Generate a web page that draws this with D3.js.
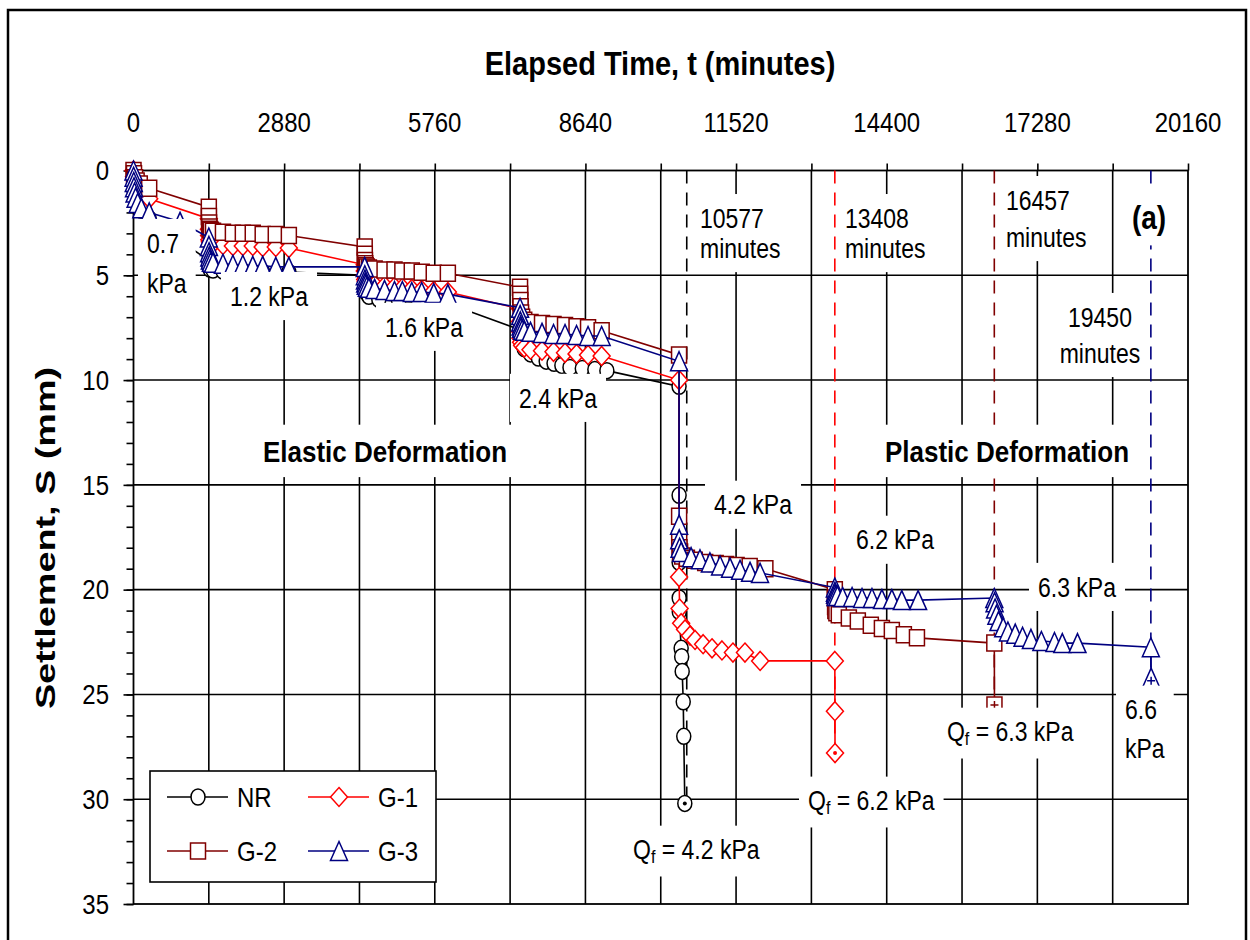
<!DOCTYPE html>
<html><head><meta charset="utf-8">
<script src="https://cdn.jsdelivr.net/npm/d3@7/dist/d3.min.js"></script>
<style>body{margin:0;background:#fff}svg text{font-family:"Liberation Sans",Arial,sans-serif;fill:#000}</style>
</head><body><svg id="c" width="1250" height="940"></svg>
<script>
// ---------------- DATA ----------------
const xTickValues = [0,2880,5760,8640,11520,14400,17280,20160];
const yTickValues = [0,5,10,15,20,25,30,35];
const seriesNames = ["NR","G-1","G-2","G-3"];
const seriesColors = ["#000000","#ff0000","#800000","#000080"];
const seriesShapes = ["circle","diamond","square","triangle"];

// [elapsed time (min), settlement (mm)]
const nrData = [
 [0,0],[5,0.5],[20,1.0],[60,1.5],[150,1.9],[300,2.3],
 [1440,4.3],[1445,4.6],[1460,4.7],[1520,4.75],[1710,4.8],[2090,4.8],[2470,4.85],[2970,4.85],
 [4420,5.0],[4425,5.5],[4440,5.8],[4500,6.0],[4690,6.15],[5070,6.25],[5450,6.3],[6010,6.35],
 [7390,7.6],[7410,8.2],[7470,8.5],[7590,8.75],[7740,8.95],[7890,9.1],[8040,9.2],[8190,9.3],[8345,9.4],[8580,9.45],[8820,9.5],[9050,9.55],
 [10430,10.3],[10431,15.5],[10432,18.7],[10433,20.4],[10434,21.05],[10470,22.8],[10480,23.2],[10490,23.9],[10510,25.35],[10520,27.0],[10540,30.2]
];
const g1Data = [
 [0,0],[10,0.3],[30,0.6],[60,0.8],[120,1.0],[300,1.35],
 [1440,2.3],[1442,2.8],[1445,3.1],[1450,3.3],[1460,3.4],[1480,3.45],[1520,3.5],[1710,3.55],[1900,3.6],[2090,3.6],[2280,3.6],[2470,3.65],[2720,3.65],[2970,3.7],
 [4420,4.5],[4422,4.8],[4425,5.0],[4430,5.2],[4440,5.3],[4460,5.35],[4500,5.4],[4610,5.45],[4800,5.5],[4990,5.55],[5140,5.6],[5320,5.65],[5510,5.7],[5740,5.75],[6010,5.8],
 [7390,6.6],[7392,7.2],[7395,7.7],[7400,8.0],[7410,8.2],[7430,8.35],[7470,8.45],[7590,8.55],[7810,8.6],[8030,8.65],[8250,8.7],[8470,8.75],[8690,8.8],[8950,8.85],
 [10430,10.0],[10431,19.4],[10440,20.9],[10470,21.6],[10545,21.9],[10640,22.2],[10736,22.4],[10890,22.6],[11060,22.8],[11250,22.9],[11460,23.0],[11690,23.0],[11980,23.4],
 [13408,23.4],[13410,25.8],[13412,27.8]
];
const g2Data = [
 [0,0],[10,0.15],[30,0.35],[60,0.5],[120,0.65],[300,0.85],
 [1440,1.75],[1442,2.2],[1445,2.5],[1450,2.7],[1460,2.8],[1480,2.85],[1520,2.9],[1710,2.95],[1900,3.0],[2090,3.0],[2280,3.0],[2470,3.05],[2720,3.05],[2970,3.1],
 [4420,3.65],[4422,4.0],[4425,4.3],[4430,4.45],[4440,4.55],[4460,4.6],[4500,4.65],[4610,4.7],[4800,4.75],[4990,4.75],[5140,4.8],[5320,4.8],[5510,4.85],[5740,4.9],[6010,4.9],
 [7390,5.57],[7392,5.9],[7395,6.2],[7400,6.5],[7410,6.8],[7430,7.0],[7470,7.15],[7590,7.25],[7810,7.3],[8030,7.35],[8250,7.4],[8470,7.45],[8690,7.5],[8950,7.65],
 [10430,8.8],[10431,16.5],[10433,17.6],[10438,18.0],[10450,18.2],[10490,18.4],[10580,18.5],[10730,18.6],[10930,18.7],[11130,18.75],[11330,18.8],[11530,18.85],[11780,18.9],[12080,19.0],
 [13408,20.0],[13410,20.4],[13413,20.8],[13418,21.0],[13438,21.1],[13484,21.2],[13676,21.35],[13848,21.5],[14096,21.7],[14308,21.85],[14498,21.95],[14728,22.15],[14978,22.3],
 [16457,22.55],[16460,25.5]
];
const g3Data = [
 [0,0],[2,0.3],[5,0.55],[10,0.8],[20,1.05],[40,1.3],[80,1.55],[150,1.8],[300,2.0],[890,2.45],
 [1440,3.2],[1442,3.6],[1445,3.9],[1450,4.1],[1460,4.25],[1480,4.35],[1520,4.4],[1710,4.45],[1900,4.5],[2090,4.5],[2280,4.55],[2470,4.55],[2720,4.6],[2970,4.6],
 [4420,4.6],[4422,5.0],[4425,5.2],[4430,5.35],[4440,5.45],[4460,5.55],[4500,5.6],[4610,5.65],[4800,5.7],[4990,5.75],[5140,5.75],[5320,5.8],[5510,5.8],[5740,5.85],[6010,5.9],
 [7390,6.55],[7392,6.9],[7395,7.2],[7400,7.4],[7410,7.5],[7430,7.6],[7470,7.65],[7590,7.7],[7810,7.75],[8030,7.8],[8250,7.8],[8470,7.85],[8690,7.9],[8950,7.9],
 [10430,9.1],[10431,16.9],[10433,17.6],[10440,18.0],[10470,18.2],[10660,18.45],[10830,18.55],[11020,18.7],[11214,18.85],[11405,18.95],[11596,19.05],[11787,19.15],[11978,19.2],
 [13408,19.9],[13410,20.1],[13413,20.2],[13423,20.3],[13458,20.3],[13558,20.35],[13738,20.35],[13928,20.4],[14118,20.4],[14308,20.45],[14498,20.45],[14688,20.5],[15000,20.5],
 [16457,20.4],[16462,20.6],[16472,20.9],[16497,21.2],[16537,21.5],[16627,21.8],[16717,22.0],[16857,22.1],[16997,22.25],[17157,22.35],[17357,22.45],[17607,22.5],[17757,22.55],[18047,22.55],
 [19450,22.75],[19455,24.2]
];
const seriesData = [nrData, g1Data, g2Data, g3Data];

// failure times (dashed markers) and the series they belong to
const failTimes = [10577, 13408, 16457, 19450];
const failSettle = [30.2, 27.8, 25.5, 24.2];
const failColors = ["#000000","#ff0000","#800000","#000080"];

// annotations: text lines, anchor time/settlement
const notes = [
 {lines:["0.7","kPa"], t:258, s:3.46, gap:40},
 {lines:["1.2 kPa"], t:1845, s:5.99},
 {lines:["1.6 kPa"], t:4808, s:7.46},
 {lines:["2.4 kPa"], t:7370, s:10.85},
 {lines:["10577","minutes"], t:10830, s:2.27, gap:30},
 {lines:["13408","minutes"], t:13602, s:2.27, gap:30},
 {lines:["16457","minutes"], t:16680, s:1.41, gap:37},
 {lines:["(a)"], t:19415, s:2.22, bold:true, size:28, anchor:"middle"},
 {lines:["19450","minutes"], t:18477, s:6.99, gap:36, anchor:"middle"},
 {lines:["Elastic Deformation"], t:2476, s:13.38, bold:true, size:26},
 {lines:["Plastic Deformation"], t:14367, s:13.38, bold:true, size:26},
 {lines:["4.2 kPa"], t:11098, s:15.95},
 {lines:["6.2 kPa"], t:13813, s:17.62},
 {lines:["6.3 kPa"], t:17292, s:19.87},
 {lines:["Q|f| = 6.3 kPa"], t:15552, s:26.78},
 {lines:["6.6","kPa"], t:18956, s:25.73, gap:39},
 {lines:["Q|f| = 6.2 kPa"], t:12895, s:30.07},
 {lines:["Q|f| = 4.2 kPa"], t:9550, s:32.41}
];

// ---------------- LAYOUT ----------------
const W = 1250, H = 940;
const P = {left:133.5, right:1188, top:170.5, bottom:904};
const SY = 1.17; // vertical stretch of glyphs in the original
const x = d3.scaleLinear().domain([0,20160]).range([P.left,P.right]);
const y = d3.scaleLinear().domain([0,35]).range([P.top,P.bottom]);
const svg = d3.select("#c");
svg.append("rect").attr("width",W).attr("height",H).attr("fill","#fff");
svg.append("rect").attr("x",8).attr("y",10).attr("width",1238).attr("height",960)
  .attr("fill","none").attr("stroke","#000").attr("stroke-width",2.5);

function addText(parent, str, px, py, o={}) {
  const size = o.size || 23;
  const t = parent.append("text")
    .attr("transform",`translate(${px},${py}) scale(1,${SY})`)
    .attr("dominant-baseline","central")
    .attr("text-anchor", o.anchor || "start")
    .attr("font-size", size)
    .attr("font-weight", o.bold ? "bold" : "normal");
  const parts = str.split("|");
  if (parts.length === 1) { t.text(str); }
  else {
    t.append("tspan").text(parts[0]);
    t.append("tspan").attr("font-size", size*0.7).attr("dy", 6).text(parts[1]);
    t.append("tspan").attr("dy", -6).text(parts[2]);
  }
  return t;
}

// grid
const grid = svg.append("g").attr("stroke","#000").attr("stroke-width",1.6);
grid.selectAll("line.v").data(d3.range(1440, 20160, 1440)).join("line")
  .attr("x1",d=>x(d)).attr("x2",d=>x(d)).attr("y1",P.top).attr("y2",P.bottom);
grid.selectAll("line.h").data(d3.range(5, 35, 5)).join("line").attr("class","h")
  .attr("x1",P.left).attr("x2",P.right).attr("y1",d=>y(d)).attr("y2",d=>y(d));

// axes
const topAxis = d3.axisTop(x).tickValues(d3.range(0, 20161, 1440)).tickSize(7).tickFormat("");
svg.append("g").attr("transform",`translate(0,${P.top})`).call(topAxis)
  .call(g=>g.selectAll("line").attr("stroke-width",1.6)).call(g=>g.select(".domain").remove());
const leftMinor = d3.axisLeft(y).tickValues(d3.range(0,36,1)).tickSize(7).tickFormat("");
svg.append("g").attr("transform",`translate(${P.left},0)`).call(leftMinor)
  .call(g=>g.selectAll("line").attr("stroke-width",1.6)).call(g=>g.select(".domain").remove());
const leftMajor = d3.axisLeft(y).tickValues(yTickValues).tickSize(10).tickFormat("");
svg.append("g").attr("transform",`translate(${P.left},0)`).call(leftMajor)
  .call(g=>g.selectAll("line").attr("stroke-width",1.6)).call(g=>g.select(".domain").remove());
svg.append("rect").attr("x",P.left).attr("y",P.top).attr("width",P.right-P.left).attr("height",P.bottom-P.top)
  .attr("fill","none").attr("stroke","#000").attr("stroke-width",1.8);

const lab = svg.append("g");
xTickValues.forEach(v => addText(lab, String(v), x(v), 122, {size:24, anchor:"middle"}));
yTickValues.forEach(v => addText(lab, String(v), 109, y(v), {size:24, anchor:"end"}));
addText(lab, "Elapsed Time, t (minutes)", 660, 63, {size:29, bold:true, anchor:"middle"});
svg.append("text").attr("transform",`translate(46,538) rotate(-90) scale(1.4,1)`)
  .attr("dominant-baseline","central").attr("text-anchor","middle")
  .attr("font-size",27).attr("font-weight","bold").text("Settlement, S (mm)");

// failure dashed lines
svg.append("g").selectAll("line").data(failTimes).join("line")
  .attr("x1",d=>x(d)).attr("x2",d=>x(d)).attr("y1",P.top).attr("y2",(d,i)=>y(failSettle[i]))
  .attr("stroke",(d,i)=>failColors[i]).attr("stroke-width",1.6).attr("stroke-dasharray","13,9");

// markers
function markerPath(shape, cx, cy) {
  if (shape==="circle") { const rx=7, ry=8;
    return `M${cx-rx},${cy}a${rx},${ry} 0 1,0 ${2*rx},0a${rx},${ry} 0 1,0 ${-2*rx},0Z`; }
  if (shape==="square") { const a=7.5, b=8;
    return `M${cx-a},${cy-b}h${2*a}v${2*b}h${-2*a}Z`; }
  if (shape==="diamond") { const a=8.5, b=9.5;
    return `M${cx},${cy-b}L${cx+a},${cy}L${cx},${cy+b}L${cx-a},${cy}Z`; }
  const a=8.5, b=9.5;
  return `M${cx},${cy-b}L${cx+a},${cy+b}L${cx-a},${cy+b}Z`;
}
const line = d3.line().x(d=>x(d[0])).y(d=>y(d[1]));
const plot = svg.append("g");
seriesData.forEach((data,i) => {
  const g = plot.append("g");
  g.append("path").datum(data).attr("d",line).attr("fill","none")
    .attr("stroke",seriesColors[i]).attr("stroke-width",1.6);
  g.selectAll("path.m").data(data).join("path").attr("class","m")
    .attr("d",d=>markerPath(seriesShapes[i], x(d[0]), y(d[1])))
    .attr("fill","#fff").attr("stroke",seriesColors[i]).attr("stroke-width",1.5);
  const last = data[data.length-1];
  const cx = x(last[0]), cy = y(last[1]) + (seriesShapes[i]==="triangle"?3:0);
  if (seriesShapes[i]==="square" || seriesShapes[i]==="triangle") {
    g.append("path").attr("d",`M${cx-4},${cy}h8M${cx},${cy-4}v8`).attr("stroke",seriesColors[i]).attr("stroke-width",1.5);
  } else {
    g.append("circle").attr("cx",cx).attr("cy",cy).attr("r",2).attr("fill",seriesColors[i]);
  }
});

// annotations with white boxes
const ann = svg.append("g");
notes.forEach(n => {
  const g = ann.append("g");
  const px = x(n.t), py = y(n.s);
  n.lines.forEach((ln,k) => addText(g, ln, px, py + k*(n.gap||0), {size:n.size||23, bold:n.bold, anchor:n.anchor}));
  const bb = g.node().getBBox();
  g.insert("rect","text").attr("x",bb.x-9).attr("y",bb.y-9).attr("width",bb.width+18).attr("height",bb.height+18).attr("fill","#fff");
});

// legend
const leg = svg.append("g");
leg.append("rect").attr("x",150).attr("y",771).attr("width",286).attr("height",111)
  .attr("fill","#fff").attr("stroke","#000").attr("stroke-width",1.6);
const legPos = [[167,797],[308,797],[167,851],[308,851]];
const legOrder = [0,1,2,3];
legOrder.forEach((si,k) => {
  const [lx,ly] = legPos[k];
  leg.append("line").attr("x1",lx).attr("x2",lx+61).attr("y1",ly).attr("y2",ly)
    .attr("stroke",seriesColors[si]).attr("stroke-width",1.6);
  leg.append("path").attr("d",markerPath(seriesShapes[si], lx+31, ly)).attr("fill","#fff")
    .attr("stroke",seriesColors[si]).attr("stroke-width",1.5);
  addText(leg, seriesNames[si], lx+70, ly, {size:24});
});
</script></body></html>
